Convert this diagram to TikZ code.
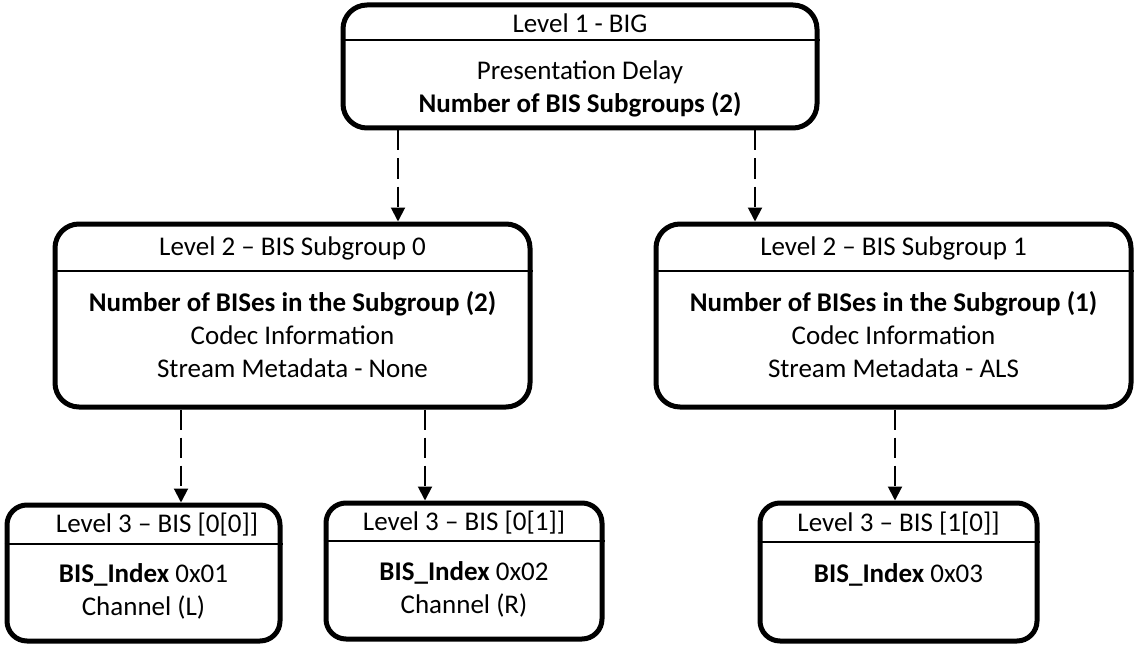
\documentclass[tikz,border=0pt]{standalone}
\usepackage{fontspec}
\setmainfont{Carlito}
\usetikzlibrary{arrows.meta}

\tikzset{
  box/.style={draw, line width=2.5pt, rounded corners=12pt, inner sep=0pt},
  divider/.style={line width=1pt},
  txt/.style={font=\fontsize{13.5}{16.5}\selectfont, align=center, inner sep=0pt},
  link/.style={line width=1pt, dash pattern=on 10pt off 4pt, -{Triangle[width=7pt,length=7pt]}}
}

\begin{document}
\begin{tikzpicture}[x=0.5pt,y=-0.5pt]
        \useasboundingbox (0,0) rectangle (1135,647);
        % boxes
        \node[box, minimum width=237pt, minimum height=61.5pt] (big) at (580,66.5) {};
        \node[box, minimum width=237.5pt, minimum height=91.5pt] (sg0) at (292.5,315.5) {};
        \node[box, minimum width=237.5pt, minimum height=91.5pt] (sg1) at (893.5,315.5) {};
        \node[box, rounded corners=10pt, minimum width=136.5pt, minimum height=68pt] (bis00) at (143.5,573) {};
        \node[box, rounded corners=10pt, minimum width=138pt, minimum height=68pt] (bis01) at (464,571) {};
        \node[box, rounded corners=10pt, minimum width=138.5pt, minimum height=69pt] (bis10) at (898.5,572) {};
        % dividers
        \draw[divider] ([yshift=-19pt]big.north west) -- ([yshift=-19pt]big.north east);
        \draw[divider] ([yshift=-24.5pt]sg0.north west) -- ([yshift=-24.5pt]sg0.north east);
        \draw[divider] ([yshift=-24.5pt]sg1.north west) -- ([yshift=-24.5pt]sg1.north east);
        \draw[divider] ([yshift=-20.5pt]bis00.north west) -- ([yshift=-20.5pt]bis00.north east);
        \draw[divider] ([yshift=-20pt]bis01.north west) -- ([yshift=-20pt]bis01.north east);
        \draw[divider] ([yshift=-20.5pt]bis10.north west) -- ([yshift=-20.5pt]bis10.north east);
        % texts
        \node[txt] (bigT) at (580,23) {Level 1 - BIG};
        \node[txt] (bigB) at (580,89) {Presentation Delay\\\textbf{Number of BIS Subgroups (2)}};
        \node[txt] (sg0T) at (292.5,248) {Level 2 -- BIS Subgroup 0};
        \node[txt] (sg0B) at (292.5,334.5) {\textbf{Number of BISes in the Subgroup (2)}\\Codec Information\\Stream Metadata - None};
        \node[txt] (sg1T) at (893.5,248) {Level 2 -- BIS Subgroup 1};
        \node[txt] (sg1B) at (893.5,334.5) {\textbf{Number of BISes in the Subgroup (1)}\\Codec Information\\Stream Metadata - ALS};
        \node[txt] (bis00T) at (157,525) {Level 3 -- BIS [0[0]]};
        \node[txt] (bis00B) at (143.5,591.5) {\textbf{BIS\_Index} 0x01\\Channel (L)};
        \node[txt] (bis01T) at (464,523) {Level 3 -- BIS [0[1]]};
        \node[txt] (bis01B) at (464,589.5) {\textbf{BIS\_Index} 0x02\\Channel (R)};
        \node[txt] (bis10T) at (898.5,524) {Level 3 -- BIS [1[0]]};
        \node[txt] (bis10B) at (898.5,575) {\textbf{BIS\_Index} 0x03};
        % links
        \draw[link] ([xshift=-91pt]big.south) -- ([xshift=-91pt]big.south |- sg0.north);
        \draw[link] ([xshift=87.5pt]big.south) -- ([xshift=87.5pt]big.south |- sg1.north);
        \draw[link] ([xshift=-55.75pt]sg0.south) -- ([xshift=-55.75pt]sg0.south |- bis00.north);
        \draw[link] ([xshift=66.25pt]sg0.south) -- ([xshift=66.25pt]sg0.south |- bis01.north);
        \draw[link] ([xshift=0.75pt]sg1.south) -- ([xshift=0.75pt]sg1.south |- bis10.north);
    \end{tikzpicture}
\end{document}
